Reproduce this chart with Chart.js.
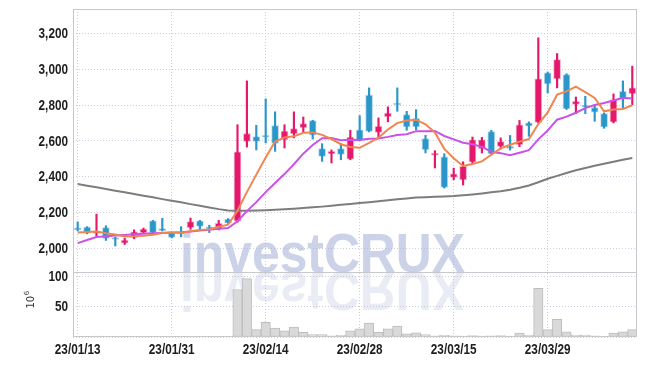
<!DOCTYPE html>
<html>
<head>
<meta charset="utf-8">
<script src="https://cdn.jsdelivr.net/npm/chart.js@4.4.0/dist/chart.umd.min.js"></script>
<style>
  body { margin: 0; background: #fff; }
  #wrap { width: 647px; height: 366px; }
</style>
</head>
<body>
<div id="wrap"><canvas id="chart" width="647" height="366"></canvas></div>
<script>
const dates = [
  "23/01/13","23/01/16","23/01/17","23/01/18","23/01/19","23/01/20","23/01/25","23/01/26","23/01/27","23/01/30",
  "23/01/31","23/02/01","23/02/02","23/02/03","23/02/06","23/02/07","23/02/08","23/02/09","23/02/10","23/02/13",
  "23/02/14","23/02/15","23/02/16","23/02/17","23/02/20","23/02/21","23/02/22","23/02/23","23/02/24","23/02/27",
  "23/02/28","23/03/02","23/03/03","23/03/06","23/03/07","23/03/08","23/03/09","23/03/10","23/03/13","23/03/14",
  "23/03/15","23/03/16","23/03/17","23/03/20","23/03/21","23/03/22","23/03/23","23/03/24","23/03/27","23/03/28",
  "23/03/29","23/03/30","23/03/31","23/04/03","23/04/04","23/04/05","23/04/06","23/04/07","23/04/10","23/04/11"
];
const opens = [
  2110,2118,2082,2115,2052,2028,2058,2087,2153,2108,
  2085,2088,2115,2153,2115,2106,2162,2150,2597,2623,
  2630,2685,2606,2638,2674,2713,2556,2526,2556,2498,
  2662,2855,2647,2735,2810,2746,2725,2612,2520,2510,
  2395,2382,2480,2556,2651,2569,2569,2578,2700,2703,
  2980,2946,2970,2804,2797,2786,2752,2704,2876,2864
];
const highs = [
  2147,2120,2190,2125,2062,2055,2102,2112,2155,2167,
  2088,2120,2168,2155,2128,2155,2165,2690,2935,2687,
  2834,2762,2690,2762,2733,2715,2584,2549,2584,2659,
  2741,2896,2728,2790,2896,2765,2774,2631,2545,2528,
  2447,2483,2621,2619,2659,2616,2630,2714,2706,3176,
  2985,3088,2975,2845,2849,2802,2756,2862,2935,3017
];
const lows = [
  2097,2080,2065,2043,2012,2020,2052,2082,2083,2095,
  2057,2063,2105,2107,2087,2102,2138,2145,2565,2549,
  2588,2541,2560,2616,2650,2610,2485,2476,2494,2494,
  2600,2650,2616,2706,2765,2659,2662,2532,2448,2336,
  2382,2353,2472,2532,2522,2554,2548,2567,2625,2700,
  2868,2896,2775,2752,2752,2709,2670,2700,2784,2802
];
const closes = [
  2102,2084,2093,2054,2048,2045,2091,2106,2085,2098,
  2060,2080,2148,2122,2108,2139,2140,2538,2640,2597,
  2620,2585,2655,2668,2696,2632,2513,2541,2524,2621,
  2606,2652,2681,2755,2800,2677,2678,2550,2532,2339,
  2416,2457,2606,2606,2526,2595,2558,2690,2682,2946,
  2918,3054,2778,2821,2788,2760,2676,2830,2834,2896
];
const ma5 = [
  2088,2090,2093,2083,2076,2065,2066,2069,2075,2085,
  2088,2086,2094,2102,2104,2119,2131,2209,2313,2411,
  2507,2596,2619,2625,2645,2647,2633,2610,2581,2566,
  2561,2589,2617,2663,2699,2713,2718,2692,2647,2555,
  2503,2459,2470,2485,2522,2558,2578,2595,2610,2694,
  2759,2858,2876,2903,2872,2840,2765,2775,2778,2799
];
const ma10 = [
  2028,2045,2062,2067,2070,2073,2077,2081,2083,2085,
  2087,2089,2093,2098,2103,2108,2112,2150,2207,2257,
  2313,2364,2414,2469,2528,2577,2614,2615,2603,2606,
  2604,2611,2613,2622,2633,2637,2654,2654,2655,2627,
  2608,2589,2581,2566,2539,2531,2519,2533,2548,2608,
  2658,2718,2735,2757,2783,2800,2811,2825,2841,2836
];
const ma60 = [
  2358,2349,2340,2330,2321,2312,2302,2293,2284,2274,
  2265,2256,2246,2237,2227,2218,2211,2209,2209,2210,
  2212,2214,2217,2220,2224,2228,2232,2237,2242,2247,
  2252,2257,2262,2268,2273,2278,2283,2285,2287,2289,
  2291,2295,2300,2306,2312,2318,2326,2337,2350,2368,
  2388,2404,2420,2435,2448,2460,2472,2483,2494,2504
];
// volume in millions
const volumes = [
  0.2,0.2,1.5,0.2,0.2,0.2,0.2,0.2,0.2,1.2,
  0.2,0.2,1.2,0.2,0.2,0.2,0.2,78,96,12,
  24,14.7,10.3,16.3,7.6,3.8,3.8,2,2.7,10.3,
  13.6,22.8,7.6,13.6,17.9,5.4,7,3.8,2,3.3,
  2,1.5,2.5,1.5,2,2.5,1.5,6.5,3.3,80,
  12,29,8.7,3.3,3.3,2,1,6.5,8.7,12
];
const priceTicks = { min: 1867, max: 3337, step: 200 };
const volTicks = { min: 0, max: 107, step: 50 };

const RED = '#e5186b';
const BLUE = '#2b96c9';
const up = closes.map((c, i) => c >= opens[i]);
const candleColor = up.map(u => u ? RED : BLUE);
const candleEdge = up.map(u => u ? 'rgba(229,24,107,0.35)' : 'rgba(43,150,201,0.35)');

const gridColor = '#c9cddd';
const labelFont = 'bold 14px "Liberation Sans", Arial, sans-serif';

// narrow tick label, drawn squeezed like the original condensed face
function narrowText(ctx, text, x, y, align) {
  ctx.save();
  ctx.translate(x, y);
  ctx.scale(0.84, 1);
  ctx.textAlign = align;
  ctx.fillText(text, 0, 0);
  ctx.restore();
}

const decor = {
  id: 'decor',
  beforeDatasetsDraw(chart) {
    const { ctx, chartArea } = chart;
    const base = chart.scales.vol.top;
    ctx.save();
    ctx.beginPath();
    ctx.rect(chartArea.left, chartArea.top, chartArea.width, chartArea.height);
    ctx.clip();
    ctx.font = 'bold 56px "Liberation Sans", Arial, sans-serif';
    ctx.textBaseline = 'alphabetic';
    ctx.fillStyle = 'rgba(170,180,215,0.6)';
    ctx.fillText('investCRUX', 180, base, 285);
    ctx.translate(0, base * 2);
    ctx.scale(1, -1);
    ctx.fillStyle = 'rgba(170,180,215,0.25)';
    ctx.fillText('investCRUX', 180, base, 285);
    ctx.restore();
  },
  afterDraw(chart) {
    const { ctx, chartArea, scales } = chart;
    const sep = Math.round(scales.vol.top) + 0.5;
    ctx.save();
    ctx.strokeStyle = '#c8c8cc';
    ctx.lineWidth = 1;
    ctx.strokeRect(Math.round(chartArea.left) + 0.5, Math.round(chartArea.top) + 0.5,
      Math.round(chartArea.width) - 1, Math.round(chartArea.height) - 1);
    ctx.beginPath();
    ctx.moveTo(chartArea.left, sep);
    ctx.lineTo(chartArea.right, sep);
    ctx.stroke();

    // tick labels
    ctx.fillStyle = '#1e1e1e';
    ctx.font = labelFont;
    ctx.textBaseline = 'middle';
    const lx = chartArea.left - 5;
    scales.y.ticks.forEach(t => {
      narrowText(ctx, t.value.toLocaleString('en-US'), lx, scales.y.getPixelForValue(t.value) + 1, 'right');
    });
    scales.vol.ticks.forEach(t => {
      if (t.value !== 0) narrowText(ctx, String(t.value), lx, scales.vol.getPixelForValue(t.value) + 1, 'right');
    });
    dates.forEach((d, i) => {
      if (i % 10 === 0) narrowText(ctx, d, scales.x.getPixelForTick(i), chartArea.bottom + 13, 'center');
    });

    // 10^6 unit label
    ctx.translate(33.5, 308.5);
    ctx.rotate(-Math.PI / 2);
    ctx.fillStyle = '#333';
    ctx.textBaseline = 'alphabetic';
    ctx.font = '10px "DejaVu Sans", sans-serif';
    ctx.fillText('10', 0, 0);
    const w = ctx.measureText('10').width;
    ctx.font = '7px "DejaVu Sans", sans-serif';
    ctx.fillText('6', w + 0.5, -5);
    ctx.restore();
  }
};

new Chart(document.getElementById('chart'), {
  type: 'bar',
  data: {
    labels: dates,
    datasets: [
      { type: 'line', data: ma5, yAxisID: 'y', borderColor: '#ef8651', borderWidth: 2, pointRadius: 0 },
      { type: 'line', data: ma10, yAxisID: 'y', borderColor: '#c953e6', borderWidth: 2, pointRadius: 0 },
      { type: 'line', data: ma60, yAxisID: 'y', borderColor: '#7d7d7d', borderWidth: 2, pointRadius: 0 },
      {
        data: opens.map((o, i) => [o, closes[i]]), yAxisID: 'y', grouped: false,
        backgroundColor: candleColor, borderColor: candleEdge, borderWidth: 1,
        borderSkipped: false, barThickness: 7, minBarLength: 2
      },
      {
        data: lows.map((l, i) => [l, highs[i]]), yAxisID: 'y', grouped: false,
        backgroundColor: candleColor, barThickness: 1.5
      },
      {
        data: volumes, yAxisID: 'vol', grouped: false,
        backgroundColor: '#d9d9d9', borderColor: '#bdbdbd', borderWidth: 1,
        borderSkipped: false, barPercentage: 1, categoryPercentage: 1
      }
    ]
  },
  options: {
    responsive: false,
    animation: false,
    layout: { padding: { top: 9, right: 10, left: 0, bottom: 0 } },
    plugins: { legend: { display: false }, tooltip: { enabled: false } },
    scales: {
      x: {
        offset: true,
        grid: {
          offset: false, drawTicks: false,
          color: c => (c.index % 10 === 0 ? gridColor : 'rgba(0,0,0,0)')
        },
        border: { display: false, dash: [1, 2] },
        ticks: { display: false, autoSkip: false, maxRotation: 0 },
        afterFit: s => { s.height = 29; }
      },
      vol: {
        position: 'left', stack: 'main', stackWeight: 65,
        min: volTicks.min, max: volTicks.max,
        grid: { color: gridColor, drawTicks: false },
        border: { display: false, dash: [1, 2] },
        ticks: { display: false, autoSkip: false, stepSize: volTicks.step, includeBounds: false },
        afterFit: s => { s.width = 73; }
      },
      y: {
        position: 'left', stack: 'main', stackWeight: 262.5,
        min: priceTicks.min, max: priceTicks.max,
        grid: { color: gridColor, drawTicks: false },
        border: { display: false, dash: [1, 2] },
        ticks: { display: false, autoSkip: false, stepSize: priceTicks.step, includeBounds: false },
        afterFit: s => { s.width = 73; }
      }
    }
  },
  plugins: [decor]
});
</script>
</body>
</html>
